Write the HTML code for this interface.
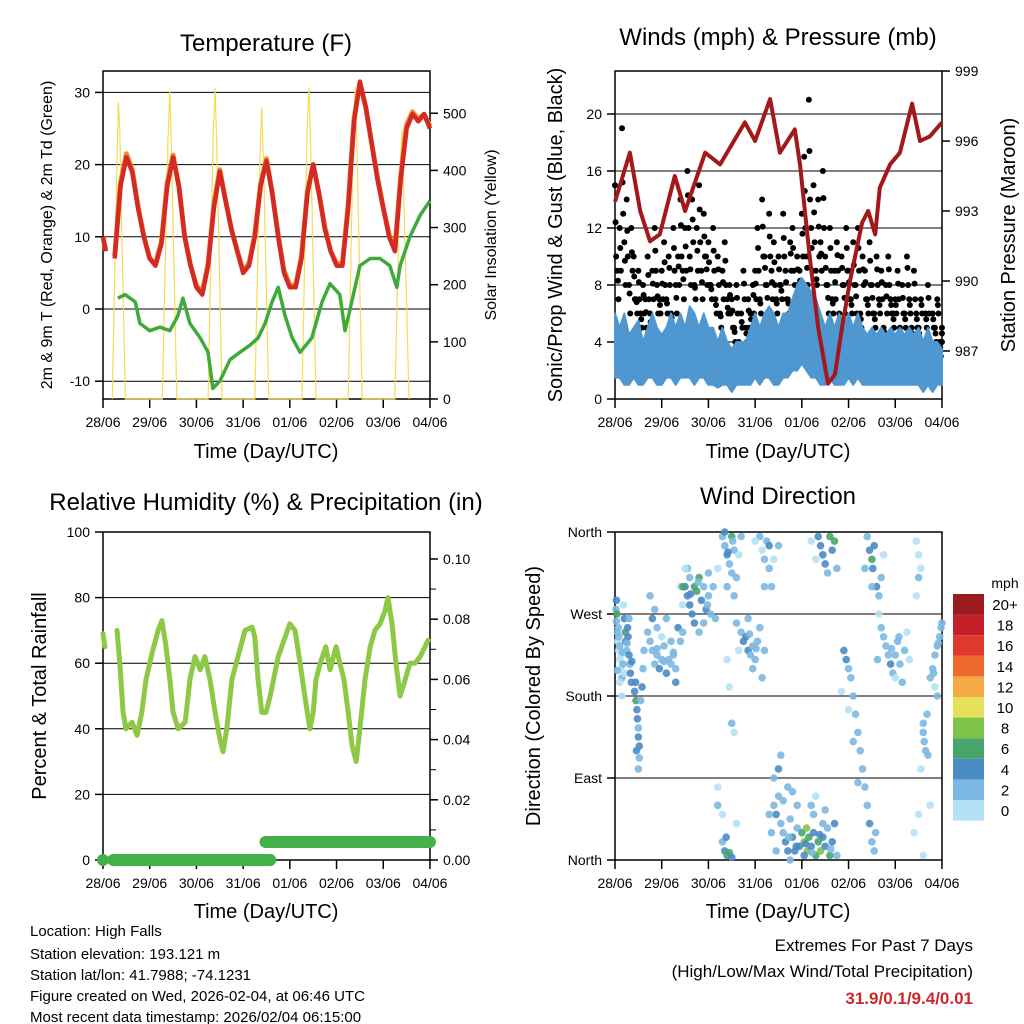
<!DOCTYPE html>
<html><head><meta charset="utf-8"><style>
body{margin:0;background:#fff;}
svg{display:block;font-family:"Liberation Sans",sans-serif;}
.t{font-size:14px;fill:#000}
.ti{font-size:24px;fill:#000}
.al{font-size:20px;fill:#000}
.ft{font-size:15px;fill:#000}
</style></head><body>
<svg id="c" width="1024" height="1024" viewBox="0 0 1024 1024">
<rect width="1024" height="1024" fill="#fff"/>
<text class="ti" x="266" y="51" text-anchor="middle">Temperature (F)</text>
<text class="ti" x="778" y="45" text-anchor="middle">Winds (mph) &amp; Pressure (mb)</text>
<text class="ti" x="266" y="510" text-anchor="middle">Relative Humidity (%) &amp; Precipitation (in)</text>
<text class="ti" x="778" y="504" text-anchor="middle">Wind Direction</text>
<text class="al" x="266" y="458" text-anchor="middle">Time (Day/UTC)</text>
<text class="al" x="778" y="458" text-anchor="middle">Time (Day/UTC)</text>
<text class="al" x="266" y="918" text-anchor="middle">Time (Day/UTC)</text>
<text class="al" x="778" y="918" text-anchor="middle">Time (Day/UTC)</text>
<text x="0" y="0" transform="translate(52,235) rotate(-90)" text-anchor="middle" style="font-size:16px">2m &amp; 9m T (Red, Orange) &amp; 2m Td (Green)</text>
<text x="0" y="0" transform="translate(496,235) rotate(-90)" text-anchor="middle" style="font-size:16px">Solar Insolation (Yellow)</text>
<text class="al" x="0" y="0" transform="translate(562,235) rotate(-90)" text-anchor="middle">Sonic/Prop Wind &amp; Gust (Blue, Black)</text>
<text class="al" x="0" y="0" transform="translate(1015,235) rotate(-90)" text-anchor="middle">Station Pressure (Maroon)</text>
<text class="al" x="0" y="0" transform="translate(46,696) rotate(-90)" text-anchor="middle">Percent &amp; Total Rainfall</text>
<text class="al" x="0" y="0" transform="translate(540,696) rotate(-90)" text-anchor="middle">Direction (Colored By Speed)</text>
<g>
<text class="ft" x="30" y="936">Location: High Falls</text>
<text class="ft" x="30" y="959">Station elevation: 193.121 m</text>
<text class="ft" x="30" y="980">Station lat/lon: 41.7988; -74.1231</text>
<text class="ft" x="30" y="1001">Figure created on Wed, 2026-02-04, at 06:46 UTC</text>
<text class="ft" x="30" y="1022">Most recent data timestamp: 2026/02/04 06:15:00</text>
</g>
<g>
<text x="973" y="951" text-anchor="end" style="font-size:17px">Extremes For Past 7 Days</text>
<text x="973" y="977" text-anchor="end" style="font-size:17px">(High/Low/Max Wind/Total Precipitation)</text>
<text x="973" y="1004" text-anchor="end" style="font-size:17px;font-weight:bold;fill:#d0262d">31.9/0.1/9.4/0.01</text>
</g>
<g id="plots"></g>
</svg>
<script>
const dayLabels=["28/06","29/06","30/06","31/06","01/06","02/06","03/06","04/06"];
const tempTicks=[-10,0,10,20,30];
const solarTicks=[0,100,200,300,400,500];
const windTicks=[0,4,8,12,16,20];
const presTicks=[987,990,993,996,999];
const rhTicks=[0,20,40,60,80,100];
const rainTicks=[0,0.02,0.04,0.06,0.08,0.10];
const dirTicks=[0,90,180,270,360];
const dirLabels=["North","East","South","West","North"];
const speedBins=["0","2","4","6","8","10","12","14","16","18","20+"];
const speedColors=["#b5e1f6","#7cb8e2","#4a8bc4","#47a56c","#7fc24a","#e6e05a","#f6a844","#ef6a2c","#e0382b","#c31f26","#9b1a1e"];

const tempT=[0,0.06,0.125,0.25,0.375,0.5,0.625,0.75,0.875,1.0,1.125,1.25,1.375,1.5,1.625,1.75,1.875,2.0,2.125,2.25,2.375,2.5,2.625,2.75,2.875,3.0,3.125,3.25,3.375,3.5,3.625,3.75,3.875,4.0,4.125,4.25,4.375,4.5,4.625,4.75,4.875,5.0,5.125,5.25,5.375,5.5,5.625,5.75,5.875,6.0,6.125,6.25,6.375,6.5,6.625,6.75,6.875,7.0];
const tempRed=[10,8,null,7,17,21,19,14,10,7,6,9,17,21,17,10,6,3,2,6,14,19,15,11,8,5,6,10,17,20.5,16,10,5,3,3,7,16,20,16,11,8,6,6,14,26,31.5,28,23,18,14,10,8,18,25,27,26,27,25];
const tempOrange=[10,8,null,7.3,17.5,21.5,19.3,14.3,10,7,6.3,9.3,17.5,21.3,17,10,6,3.3,2.3,6.3,14.5,19.3,15,11,8,5.3,6.3,10.3,17.3,20.8,16,10.3,5.3,3.3,3.3,7.3,16.3,20,16,11.3,8,6.3,6.3,14.5,26.5,31.2,28,23,18.3,14,10.3,8.3,18.5,25.5,27.3,26.3,27,25.3];
const dewT=[0,0.05,0.32,0.47,0.69,0.79,1.0,1.22,1.43,1.6,1.71,1.86,2.08,2.25,2.35,2.5,2.72,2.93,3.15,3.32,3.47,3.62,3.75,3.9,4.05,4.22,4.47,4.69,4.86,5.07,5.18,5.29,5.5,5.72,5.93,6.14,6.29,6.36,6.57,6.79,7.0];
const dewV=[0.5,null,1.5,2,1,-2,-3,-2.5,-3,-1,1.5,-2,-4,-6,-11,-10,-7,-6,-5,-4,-2,1,3,-1,-4,-6,-4,1,3.5,2,-3,0,6,7,7,6,3,6,10,13,15];
const solarT=[0.2,0.29,0.33,0.36,0.4,0.48, 1.27,1.39,1.43,1.47,1.58, 2.25,2.36,2.4,2.44,2.55, 3.25,3.36,3.4,3.44,3.55, 4.26,4.37,4.41,4.45,4.56, 5.25,5.36,5.4,5.44,5.55, 6.25,6.36,6.4,6.44,6.55];
const solarV=[0,380,520,470,300,0, 0,450,540,420,0, 0,460,545,430,0, 0,420,510,400,0, 0,470,545,430,0, 0,470,545,430,0, 0,400,470,360,0];

const gustA=[15,9,12,19,11,14,8,12,10,7, 9,6,8,7,10,6,9,12,8,7, 9,11,7,10,6,12,8,10,14,9, 12,16,10,14,8,12,15,9,13,10, 11,8,12,7,10,6,9,11,7,8, 7,5,8,4,6,9,5,7,6,8, 9,12,7,14,10,8,13,9,11,7, 10,8,13,9,7,11,12,8,10,9, 13,17,10,21,12,15,9,14,11,16, 10,8,12,7,9,11,6,10,8,12, 9,7,11,8,12,6,10,9,7,11, 8,6,10,7,9,5,8,10,7,6, 7,9,5,8,6,10,7,5,9,6, 5,7,4,6,8,4,6,5,7,4, 5];
const gustB=[10,7,9,13,8,10,6,9,7,6, 7,5,6,5,7,5,7,9,6,6, 7,8,6,8,5,9,6,8,10,7, 9,12,8,11,7,9,11,7,10,8, 8,7,9,6,8,5,7,8,6,6, 5,4,6,3,5,7,4,5,5,6, 7,9,6,10,8,6,10,7,8,6, 8,7,10,7,6,9,9,6,8,7, 10,12,8,14,9,11,8,10,9,12, 8,6,9,6,7,9,5,8,6,9, 7,6,8,6,9,5,8,7,6,8, 6,5,8,6,7,4,6,8,6,5, 6,7,4,6,5,8,6,4,7,5, 4,6,3,5,6,3,5,4,6,3, 4];
const gustC=[12.4,8.3,10.6,15.2,9.7,11.8,7.4,10.3,8.6,6.8, 8.2,5.6,7.3,6.1,8.7,5.4,8.1,10.4,7.2,6.6, 8.1,9.6,6.7,9.2,5.7,10.6,7.1,9.3,12.2,8.4, 10.7,14.3,9.1,12.6,7.8,10.4,13.3,8.2,11.4,9.1, 9.6,7.7,10.4,6.6,9.1,5.8,8.2,9.7,6.4,7.3, 6.2,4.7,7.1,3.6,5.4,8.1,4.6,6.2,5.6,7.3, 8.1,10.6,6.7,12.1,9.2,7.1,11.4,8.2,9.6,6.7, 9.1,7.6,11.3,8.2,6.7,10.2,10.6,7.2,9.1,8.3, 11.6,14.6,9.2,17.4,10.6,13.1,8.4,12.1,10.2,14.1, 9.2,7.1,10.6,6.7,8.2,10.1,5.6,9.2,7.1,10.6, 8.2,6.6,9.4,7.2,10.6,5.6,9.1,8.2,6.6,9.7, 7.1,5.6,9.1,6.6,8.2,4.7,7.2,9.1,6.6,5.6, 6.6,8.1,4.6,7.1,5.6,9.2,6.6,4.6,8.1,5.6, 4.6,6.6,3.7,5.6,7.1,3.6,5.6,4.6,6.6,3.6, 4.6];
const windMax=[6,5,6,4.5,5,5.5,4, 5,6,5,4.5,5,6,5, 6,5,6.5,6,5,6,5, 5,4,5,4,3.5,4,4, 4,5,6,5,6,6.5,6, 5,6,6,7,8,8.5,8, 7.5,7,6,5,6,5,6, 5,6,5,6,5,4.5,5, 4.5,5,4.5,5,4.5,5,4.5, 5,4.5,5,4,5,4,4, 3.5];
const windMin=[1.5,1.5,1,1,1.5,1,1, 1.5,1.5,1,1,1.5,1.5,1, 1.5,1.5,1.5,1,1.5,1.5,1, 1,0.8,1,1,0.5,1,1, 1,1,1.5,1,1.5,1.5,1, 1,1.5,1.5,2,2,2.5,2, 1.5,1.5,1,1,1.5,1,1, 1,1.5,1,1.5,1,1,1, 1,1,1,1,1,1,1, 1,1,1,0.5,1,0.5,1, 1];
const presT=[0,0.32,0.54,0.75,0.96,1.28,1.5,1.93,2.25,2.78,3.0,3.32,3.53,3.85,3.96,4.17,4.35,4.56,4.71,4.86,5.03,5.29,5.42,5.57,5.67,5.89,6.1,6.36,6.53,6.74,7.0];
const presV=[993.4,995.5,993,991.7,992,994.5,993,995.5,995,996.8,996,997.8,995.5,996.5,995,991,988,985.6,986,988,990,992.5,993,992,994,995,995.5,997.6,996,996.2,996.8];

const rhT=[0,0.04,0.15,0.3,0.36,0.43,0.49,0.62,0.73,0.83,0.92,1.05,1.18,1.26,1.35,1.43,1.5,1.61,1.76,1.86,1.97,2.08,2.18,2.29,2.4,2.5,2.57,2.65,2.76,2.89,3.04,3.19,3.25,3.32,3.4,3.49,3.58,3.75,3.9,4.0,4.11,4.22,4.32,4.43,4.5,4.56,4.65,4.77,4.86,4.99,5.07,5.16,5.25,5.33,5.42,5.5,5.61,5.72,5.82,5.93,6.04,6.1,6.19,6.27,6.36,6.47,6.57,6.68,6.79,6.96];
const rhV=[69,65,null,70,60,45,40,42,38,45,55,63,70,73,65,55,45,40,42,55,62,58,62,55,45,37,33,40,55,62,70,71,68,55,45,45,50,62,68,72,70,60,50,40,45,55,60,65,58,65,60,55,45,35,30,40,55,65,70,72,76,80,72,60,50,55,60,60,62,67];
const rainT=[0.22,3.58,3.48,7.0];
const rainV=[0,0,0.006,0.006];

const wdT=[0.02,0.03,0.05,0.06,0.08,0.1,0.12,0.15,0.03,0.04,0.07,0.1,0.13,0.17,0.2,0.2,0.22,0.23,0.25,0.27,0.28,0.3,0.32,0.33,0.35,0.05,0.1,0.15,0.3,0.18,
0.42,0.45,0.47,0.48,0.5,0.5,0.52,0.52,0.5,0.55,0.58,0.6,0.62,0.44,0.46,
0.7,0.75,0.8,0.85,0.9,0.95,1.0,1.05,1.1,1.15,1.2,1.25,1.3,1.35,1.4,0.8,0.85,0.9,1.0,1.2,1.3,1.45,1.45,0.75,1.1,1.4,
1.5,1.55,1.6,1.6,1.55,1.65,1.7,1.75,1.8,1.85,1.9,1.95,2.0,2.05,2.1,2.15,1.7,1.8,1.45,2.0,1.5,1.9,
2.3,2.35,2.4,2.45,2.5,2.4,2.5,2.55,2.6,2.55,2.35,2.2,2.65,2.7,2.3,2.35,2.4,2.45,2.5,2.38,2.3,2.6,2.2,2.2,
2.6,2.7,2.75,2.8,2.85,2.9,2.95,3.0,3.05,3.1,3.2,2.85,2.95,3.15,2.65,2.4,2.45,2.5,2.55,
3.1,3.15,3.2,3.25,3.3,3.35,3.2,3.3,3.0,3.4,3.5,
3.4,3.45,3.5,3.55,3.6,3.65,3.7,3.75,3.8,3.85,3.9,3.95,4.0,4.05,4.1,4.12,4.15,4.2,4.25,4.3,4.35,4.4,4.45,4.5,4.55,4.6,4.65,4.7,3.6,3.7,3.5,3.4,3.55,3.3,3.45,3.35,4.2,4.3,4.25,4.5,3.9,3.8,4.75,4.45,3.75,4.05,
4.35,4.4,4.45,4.5,4.55,4.6,4.65,4.7,4.75,4.3,4.2,
4.9,4.95,5.0,5.05,5.1,5.15,5.2,5.25,5.3,5.35,5.4,5.45,5.5,5.55,5.0,5.1,5.2,4.85,
5.4,5.45,5.5,5.52,5.55,5.6,5.65,5.7,5.35,5.75,5.5,
5.7,5.75,5.8,5.85,5.9,5.95,6.0,6.05,6.1,6.15,6.2,6.25,5.65,6.0,6.3,
6.45,6.5,6.5,6.45,6.55,6.6,6.62,6.65,6.6,6.55,6.7,6.68,6.75,6.6,6.4,6.5,
6.75,6.8,6.85,6.9,6.95,6.98,6.85,6.9,7.0,
0.08,0.16,0.26,0.36,0.9,1.05,1.25,1.62,1.78,1.98,2.42,2.52,2.88,3.02,3.72,3.88,4.08,4.22,4.38,4.62,5.58,5.62,5.92,6.08,6.82,6.92];
const wdDir=[275,262,250,240,230,220,210,200,285,270,255,235,225,215,205,265,250,240,230,255,245,225,215,205,195,208,195,180,265,280,
185,175,165,155,145,135,125,112,100,175,190,210,230,195,120,
250,240,230,215,225,210,220,235,205,220,240,225,210,255,240,265,275,255,245,215,195,250,280,290,265,300,
300,290,280,310,320,270,300,295,310,285,300,275,290,270,300,265,260,250,300,315,320,260,
355,345,335,325,315,300,355,340,310,290,360,320,335,355,20,10,5,8,3,25,50,40,80,60,
260,250,240,245,230,225,235,220,240,255,230,265,210,200,230,220,190,150,140,
355,340,330,350,320,300,300,345,350,330,345,
60,50,70,40,30,20,10,45,25,10,35,15,30,20,35,10,25,15,30,5,20,10,25,15,35,5,20,40,65,80,100,90,115,50,10,30,60,70,50,55,60,75,5,40,0,5,
355,345,335,325,315,355,340,350,320,330,350,
230,220,210,200,180,160,140,120,100,80,60,40,20,10,165,130,85,185,
355,340,330,320,345,300,290,310,320,335,300,
255,245,235,225,215,205,225,240,215,195,230,250,270,200,220,
350,335,310,290,320,140,130,120,150,100,115,160,60,5,30,50,
200,210,225,235,245,255,190,180,260,
245,228,238,218,232,218,228,292,305,280,338,350,248,232,25,15,18,8,28,12,30,220,232,245,205,238];
const wdSpd=[3,3,2,1,1,1,1,2,5,6,3,2,1,2,1,5,6,4,3,4,5,4,3,4,4,2,1,0,3,1,
5,6,4,4,3,4,4,3,3,3,4,3,2,4,4,
3,2,2,3,2,4,2,2,4,3,3,2,3,4,3,4,3,2,1,2,5,2,1,2,2,1,
4,4,5,3,2,4,6,7,6,5,3,4,2,3,2,2,5,3,7,2,1,2,
2,3,4,3,2,2,6,3,2,2,5,1,1,2,2,4,6,6,5,4,1,1,1,2,
2,3,4,4,4,3,2,2,3,2,2,3,2,2,1,1,1,2,1,
2,1,2,3,2,2,3,4,1,1,2,
3,4,3,2,3,4,4,3,4,4,3,5,7,9,9,8,6,4,5,6,7,8,5,4,3,6,5,4,2,2,4,3,2,2,2,3,2,1,3,2,2,2,3,2,3,5,
4,5,4,4,3,6,4,7,2,1,1,
4,4,3,2,2,3,3,2,3,2,3,4,3,3,1,2,2,1,
3,4,6,5,4,4,3,2,2,1,3,
2,2,2,3,4,3,2,2,3,2,2,1,1,1,1,
1,1,2,1,1,2,2,3,3,1,2,2,1,1,1,1,
2,3,2,3,2,2,1,2,3,
3,2,3,4,2,3,2,4,3,2,4,3,3,2,3,4,5,3,4,3,2,3,2,3,2,3];

const NS="http://www.w3.org/2000/svg";
const root=document.getElementById('plots');
function mk(tag,attrs,parent){const e=document.createElementNS(NS,tag);for(const k in attrs)e.setAttribute(k,attrs[k]);(parent||root).appendChild(e);return e;}
function gx(o){return t=>o+t*46.71;}
const x1=gx(103), x2=gx(615);
const yT=v=>309-7.22*v, yS=v=>399-0.5715*v;
const yW=v=>399-14.25*v, yP=p=>351-(p-987)*23.33;
const yR=v=>860-3.28*v, yRain=v=>860-v*3010;
const yD=d=>860-d*328/360;

function pathFrom(ts,vs,fx,fy){let d="",pen=false;for(let i=0;i<ts.length;i++){if(vs[i]===null){pen=false;continue;}d+=(pen?"L":"M")+fx(ts[i]).toFixed(1)+","+fy(vs[i]).toFixed(1);pen=true;}return d;}

function frame(L,T,R,B,name){
  const g=mk('g',{});
  
  
  const r=mk('rect',{x:L,y:T,width:R-L,height:B-T,fill:'none',stroke:'#000','stroke-width':1.5},g);
  
  
  const fx=L===103?x1:x2;
  dayLabels.forEach((lab,i)=>{
    const x=fx(i);
    mk('line',{x1:x,x2:x,y1:B,y2:B+9,stroke:'#000','stroke-width':1.5},g);
    const tx=mk('text',{x:x,y:B+28,'text-anchor':'middle',class:'t'},g);
    tx.textContent=lab;
    
    
  });
  return g;
}
function yAxis(g,ticks,fy,x,side,labs,fmt,grid,gL,gR){
  ticks.forEach((v,i)=>{
    const y=fy(v);
    if(grid) mk('line',{x1:gL,x2:gR,y1:y,y2:y,stroke:'#000','stroke-width':1},g);
    mk('line',{x1:x,x2:x+(side<0?-8:8),y1:y,y2:y,stroke:'#000','stroke-width':1.5},g);
    const tx=mk('text',{x:x+(side<0?-13:13),y:y+5,'text-anchor':side<0?'end':'start',class:'t'},g);
    tx.textContent=labs?labs[i]:fmt(v);
    
    
  });
}

/* Panel 1: Temperature */
const g1=frame(103,71,430,399,'temperature-panel');
yAxis(g1,tempTicks,yT,103,-1,null,v=>String(v),true,103,430);
yAxis(g1,solarTicks,yS,430,1,null,v=>String(v),false);
const sol=mk('path',{d:pathFrom(solarT,solarV,x1,yS),fill:'none',stroke:'#f6dc55','stroke-width':1.2},g1);


const dew=mk('path',{d:pathFrom(dewT,dewV,x1,yT),fill:'none',stroke:'#3faa3a','stroke-width':3.5,'stroke-linejoin':'round'},g1);


const org=mk('path',{d:pathFrom(tempT,tempOrange,x1,yT),fill:'none',stroke:'#f08a2a','stroke-width':5,'stroke-linejoin':'round'},g1);


const red=mk('path',{d:pathFrom(tempT,tempRed,x1,yT),fill:'none',stroke:'#d42a25','stroke-width':4.5,'stroke-linejoin':'round'},g1);



/* Panel 2: Winds & Pressure */
const g2=frame(615,71,942,399,'winds-panel');
yAxis(g2,windTicks,yW,615,-1,null,v=>String(v),true,615,942);
yAxis(g2,presTicks,yP,942,1,null,v=>String(v),false);
[[gustA,0],[gustB,0.025],[gustC,0.0125]].forEach(([arr,off])=>{
  arr.forEach((v,i)=>{
    const c=mk('circle',{cx:x2(Math.min(7,i*0.05+off)),cy:yW(v),r:3,fill:'#000'},g2);
    
    
  });
});
let bd="";
windMax.forEach((v,i)=>{bd+=(i?"L":"M")+x2(i*0.1).toFixed(1)+","+yW(v).toFixed(1);});
for(let i=windMin.length-1;i>=0;i--){bd+="L"+x2(i*0.1).toFixed(1)+","+yW(windMin[i]).toFixed(1);}
const band=mk('path',{d:bd+"Z",fill:'#4f97d1',stroke:'#4f97d1','stroke-width':2,'stroke-linejoin':'round'},g2);


const pres=mk('path',{d:pathFrom(presT,presV,x2,yP),fill:'none',stroke:'#a3181b','stroke-width':4,'stroke-linejoin':'round'},g2);



/* Panel 3: RH & precip */
const g3=frame(103,532,430,860,'humidity-panel');
yAxis(g3,rhTicks,yR,103,-1,null,v=>String(v),true,103,430);
yAxis(g3,rainTicks,yRain,430,1,null,v=>v.toFixed(2),false);
for(let v=0.01;v<0.109;v+=0.02){mk('line',{x1:430,x2:436,y1:yRain(v),y2:yRain(v),stroke:'#000'},g3);}
const rh=mk('path',{d:pathFrom(rhT,rhV,x1,yR),fill:'none',stroke:'#8dc846','stroke-width':5,'stroke-linejoin':'round','stroke-linecap':'round'},g3);


const r0=mk('circle',{cx:x1(0),cy:yRain(0),r:6,fill:'#44b049'},g3);


for(let i=0;i<rainT.length-1;i++){
  if(rainT[i+1]<rainT[i]) continue;
  const s=mk('line',{x1:x1(rainT[i]),x2:x1(rainT[i+1]),y1:yRain(rainV[i]),y2:yRain(rainV[i+1]),stroke:'#44b049','stroke-width':12,'stroke-linecap':'round'},g3);
  
  
}

/* Panel 4: wind direction */
const g4=frame(615,532,942,860,'wind-direction-panel');
yAxis(g4,dirTicks,yD,615,-1,dirLabels,null,true,607,942);
wdT.forEach((t,i)=>{
  const bin=Math.min(10,Math.floor(wdSpd[i]/2));
  const c=mk('circle',{cx:x2(t),cy:yD(wdDir[i]),r:3.8,fill:speedColors[bin],'fill-opacity':0.9},g4);
  
  
});
const lg=mk('g',{});


const mph=mk('text',{x:1005,y:588,'text-anchor':'middle',class:'t'},lg);
mph.textContent='mph';
speedBins.forEach((lab,i)=>{
  const y=594+(10-i)*20.6;
  const r=mk('rect',{x:953,y:y,width:31,height:20.6,fill:speedColors[i]},lg);
  
  
  const tx=mk('text',{x:1005,y:y+16,'text-anchor':'middle',style:'font-size:15px'},lg);
  tx.textContent=lab;
  
  
});
</script>
</body></html>
